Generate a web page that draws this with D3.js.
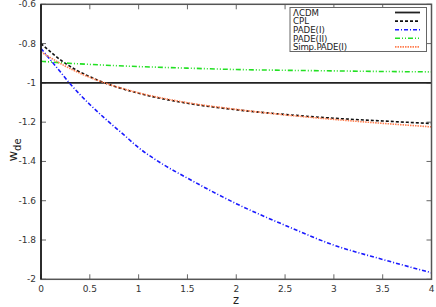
<!DOCTYPE html>
<html><head><meta charset="utf-8">
<script src="https://cdn.jsdelivr.net/npm/d3@7"></script>
<style>body{margin:0;background:#fff}svg{display:block}</style>
</head><body>
<svg id="c" width="436" height="307"></svg>
<script>
const xTicks = [0,0.5,1,1.5,2,2.5,3,3.5,4];
const yTicks = [-0.6,-0.8,-1,-1.2,-1.4,-1.6,-1.8,-2];
const seriesNames = ["ΛCDM","CPL","PADE(I)","PADE(II)","Simp.PADE(I)"];
const lcdmZ = [0,4];
const lcdmW = [-1,-1];
const cplZ = [0,0.25,0.5,0.75,1,1.5,2,2.5,3,3.5,4];
const cplW = [-0.8,-0.901,-0.969,-1.017,-1.053,-1.104,-1.137,-1.161,-1.18,-1.194,-1.207];
const padeIZ = [0,0.1,0.2,0.29,0.4,0.5,0.675,0.85,1,1.25,1.5,1.75,2,2.5,3,3.5,4];
const padeIW = [-0.825,-0.885,-0.945,-1.0,-1.06,-1.11,-1.19,-1.265,-1.33,-1.415,-1.485,-1.552,-1.615,-1.725,-1.826,-1.899,-1.967];
const padeIIZ = [0,0.25,0.5,1,1.5,2,2.5,3,3.5,4];
const padeIIW = [-0.89,-0.899,-0.906,-0.917,-0.925,-0.932,-0.936,-0.939,-0.942,-0.944];
const simpZ = [0,0.25,0.5,0.75,1,1.5,2,2.5,3,3.5,4];
const simpW = [-0.842,-0.915,-0.972,-1.016,-1.051,-1.101,-1.135,-1.163,-1.186,-1.206,-1.224];

const svg = d3.select("#c");
const L=41,R=431.5,T=4.3,B=279.3;
const x = d3.scaleLinear().domain([0,4]).range([L,R]);
const y = d3.scaleLinear().domain([-2,-0.6]).range([B,T]);
const font = "DejaVu Sans, sans-serif";

const g = svg.append("g");
xTicks.forEach(t=>{
  g.append("line").attr("x1",x(t)).attr("x2",x(t)).attr("y1",B).attr("y2",B-5).attr("stroke","#666").attr("stroke-width",1);
  g.append("line").attr("x1",x(t)).attr("x2",x(t)).attr("y1",T).attr("y2",T+5).attr("stroke","#666").attr("stroke-width",1);
  g.append("text").attr("x",x(t)).attr("y",B+12.5).attr("text-anchor","middle").attr("font-family",font).attr("font-size",9).attr("fill","#333").text(t);
});
yTicks.forEach(t=>{
  g.append("line").attr("x1",L).attr("x2",L+5).attr("y1",y(t)).attr("y2",y(t)).attr("stroke","#666").attr("stroke-width",1);
  g.append("line").attr("x1",R).attr("x2",R-5).attr("y1",y(t)).attr("y2",y(t)).attr("stroke","#666").attr("stroke-width",1);
  g.append("text").attr("x",L-5).attr("y",y(t)+3).attr("text-anchor","end").attr("font-family",font).attr("font-size",9).attr("fill","#333").text(t);
});

const line = d3.line().x(d=>x(d[0])).y(d=>y(d[1])).curve(d3.curveMonotoneX);
const series = [
  {z:lcdmZ,w:lcdmW,color:"#222",dash:null,width:1.8},
  {z:cplZ,w:cplW,color:"#111",dash:"3,2",width:1.6},
  {z:padeIZ,w:padeIW,color:"#1a1aff",dash:"4,2,1,2",width:1.6},
  {z:padeIIZ,w:padeIIW,color:"#22e022",dash:"5,2,1,2,1,2",width:1.6},
  {z:simpZ,w:simpW,color:"#ff7f50",dash:"1.5,1",width:1.6}
];
const plot = svg.append("g");
series.forEach(s=>{
  plot.append("path").attr("d",line(s.z.map((z,i)=>[z,s.w[i]]))).attr("fill","none")
    .attr("stroke",s.color).attr("stroke-width",s.width).attr("stroke-dasharray",s.dash);
});

svg.append("rect").attr("x",L).attr("y",T).attr("width",R-L).attr("height",B-T)
  .attr("fill","none").attr("stroke","#555").attr("stroke-width",1.5);
svg.append("line").attr("x1",L).attr("x2",L).attr("y1",T).attr("y2",B).attr("stroke","#111").attr("stroke-width",1.5);

const lg = svg.append("g");
lg.append("rect").attr("x",290).attr("y",7.5).attr("width",136.5).attr("height",44)
  .attr("fill","#fff").attr("stroke","#666").attr("stroke-width",1);
seriesNames.forEach((n,i)=>{
  const yy = 12.5 + i*8.6;
  lg.append("text").attr("x",293).attr("y",yy+3.2).attr("font-family",font).attr("font-size",8.6)
    .attr("textLength", i===4 ? 54 : null).attr("fill","#222").text(n);
  const s = series[i];
  lg.append("line").attr("x1",395).attr("x2",420).attr("y1",yy).attr("y2",yy)
    .attr("stroke",s.color).attr("stroke-width",s.width).attr("stroke-dasharray",s.dash);
});

svg.append("text").attr("x",236).attr("y",304).attr("text-anchor","middle").attr("font-family",font).attr("font-size",11.5).attr("fill","#222").text("z");
const yl = svg.append("text").attr("transform","translate(17,150) rotate(-90)").attr("text-anchor","middle").attr("font-family",font).attr("font-size",13).attr("fill","#222");
yl.append("tspan").text("w");
yl.append("tspan").attr("font-size",10).attr("dy",4).text("de");
</script>
</body></html>
